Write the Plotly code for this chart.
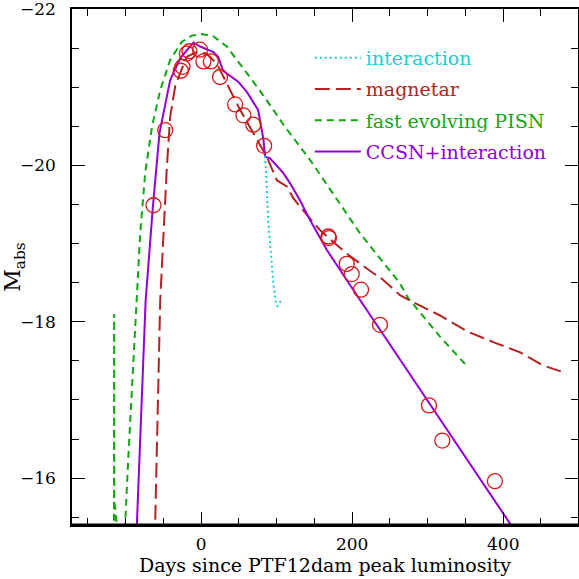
import plotly.graph_objects as go

# observations
obs_day = [-63.1, -47.6, -26.9, -24.7, -18.9, -15.5, -1.5, 3, 12.8, 25, 45, 56, 69, 83.4,
           168.5, 169.2, 192.8, 199.4, 211.7, 236.8, 301.7, 319.3, 389]
obs_mag = [-19.49, -20.45, -21.21, -21.26, -21.43, -21.46, -21.48, -21.33, -21.33, -21.13,
           -20.78, -20.64, -20.52, -20.25, -19.09, -19.07, -18.74, -18.61, -18.41, -17.96,
           -16.93, -16.48, -15.96]

# CCSN + interaction model
ccsn_day = [-87, -85.1, -73.5, -63.9, -55.2, -41, -27.8, -10.2, -1.3, 16.3, 22.5, 29.1, 49,
            60.5, 75.4, 82.4, 84.7, 91.3, 108.9, 117.8, 131, 142, 166.3, 197.1, 420]
ccsn_mag = [-15.2, -15.41, -18.27, -19.47, -20.41, -21.09, -21.37, -21.57, -21.52, -21.45,
            -21.39, -21.21, -21.07, -20.94, -20.71, -20.34, -20.11, -20.09, -19.90, -19.77,
            -19.55, -19.34, -18.92, -18.47, -15.26]

# interaction model
int_day = [84.5, 86, 89, 92.2, 95.7, 99.2, 101, 105.8]
int_mag = [-20.12, -19.90, -19.26, -18.83, -18.49, -18.23, -18.20, -18.27]

# magnetar model
mag_day = [-62, -60.9, -54.2, -49.9, -45.4, -41, -34.4, -27.8, -18.9, -5.7, 7.5, 20.8, 34,
           51.6, 69.2, 86.9, 100.2, 113.4, 122.1, 131, 157.5, 183.9, 192.8, 228, 236.8,
           263.3, 276.5, 316.2, 353.7, 386.7, 422, 452.9, 483.9]
mag_mag = [-15.2, -15.41, -18.27, -19.13, -19.98, -20.62, -21.01, -21.18, -21.39, -21.45,
           -21.43, -21.30, -21.05, -20.71, -20.41, -20.11, -19.81, -19.73, -19.58, -19.47,
           -19.17, -18.94, -18.87, -18.62, -18.57, -18.34, -18.27, -18.08, -17.87, -17.74,
           -17.61, -17.44, -17.34]

# fast evolving PISN model
pisn_day = [-115.4, -115.2, -115.0, -114.3, -113.0, -111.5, -107, -102, -100.6, -96.2, -92.6,
            -89.6, -86.4, -80.7, -74.1, -65.2, -54.2, -41, -25.5, -12.3, 0.9, 16.3, 34,
            51.6, 73.7, 95.7, 108.9, 144.2, 175, 210.4, 236.8, 263.3, 274.3, 316.2, 349.3]
pisn_mag = [-15.3, -18.1, -15.72, -15.65, -15.5, -15.3, -14.9, -15.2, -15.42, -16.31, -16.99,
            -17.63, -18.19, -19.13, -19.90, -20.49, -20.96, -21.35, -21.58, -21.66, -21.68,
            -21.65, -21.52, -21.30, -21.01, -20.71, -20.52, -20.07, -19.64, -19.13, -18.81,
            -18.49, -18.30, -17.81, -17.46]

C_INT = "#1ccfcf"
C_MAG = "#b42222"
C_PISN = "#12a612"
C_CCSN = "#9400d8"
C_OBS = "#d81818"
FONT = "DejaVu Serif"

fig = go.Figure()
fig.add_trace(go.Scatter(x=pisn_day, y=pisn_mag, mode="lines", legendrank=3, legendgroup="c",
                         name=f"<span style='color:{C_PISN}'>fast evolving PISN</span>",
                         line=dict(color=C_PISN, width=2, dash="7px,5px")))
fig.add_trace(go.Scatter(x=mag_day, y=mag_mag, mode="lines", legendrank=2, legendgroup="b",
                         name=f"<span style='color:{C_MAG}'>magnetar</span>",
                         line=dict(color=C_MAG, width=2, dash="15px,6px")))
fig.add_trace(go.Scatter(x=ccsn_day, y=ccsn_mag, mode="lines", legendrank=4, legendgroup="d",
                         name=f"<span style='color:{C_CCSN}'>CCSN+interaction</span>",
                         line=dict(color=C_CCSN, width=2)))
fig.add_trace(go.Scatter(x=int_day, y=int_mag, mode="lines", legendrank=1, legendgroup="a",
                         name=f"<span style='color:{C_INT}'>interaction</span>",
                         line=dict(color=C_INT, width=2, dash="2px,3px")))
fig.add_trace(go.Scatter(x=obs_day, y=obs_mag, mode="markers", showlegend=False,
                         marker=dict(symbol="circle-open", size=15, color=C_OBS,
                                     line=dict(width=1.3, color=C_OBS))))

axis_common = dict(showline=True, linecolor="black", linewidth=1.5, mirror="ticks",
                   ticks="inside", tickcolor="black", tickwidth=1.3, ticklen=13,
                   showgrid=False, zeroline=False, ticklabeloverflow="allow",
                   automargin=False,
                   tickfont=dict(family=FONT, size=17, color="black"))

fig.update_xaxes(range=[-171, 499], tick0=0, dtick=200,
                 minor=dict(dtick=50, ticks="inside", ticklen=7, tickcolor="black", tickwidth=1.3),
                 ticklabelstandoff=3,
                 title=dict(text="Days since PTF12dam peak luminosity",
                            font=dict(family=FONT, size=19, color="black"), standoff=2),
                 **axis_common)
fig.update_yaxes(range=[-15.4, -22.0001], tick0=0, dtick=2,
                 minor=dict(dtick=0.5, ticks="inside", ticklen=7, tickcolor="black", tickwidth=1.3),
                 ticklabelstandoff=11,
                 title=dict(text="M<sub>abs</sub>",
                            font=dict(family=FONT, size=22, color="black"), standoff=6),
                 **axis_common)

fig.add_shape(type="line", xref="paper", yref="paper", x0=0, x1=1, y0=0, y1=0,
              line=dict(color="black", width=3))

fig.update_layout(
    width=579, height=579,
    margin=dict(l=72, r=1, t=9, b=54),
    paper_bgcolor="white", plot_bgcolor="white",
    showlegend=True,
    legend=dict(x=0.47, y=0.942, xanchor="left", yanchor="top",
                bgcolor="rgba(0,0,0,0)", font=dict(family=FONT, size=19),
                itemwidth=46, tracegroupgap=3.5, traceorder="grouped"),
)

fig.write_html("out.html")
